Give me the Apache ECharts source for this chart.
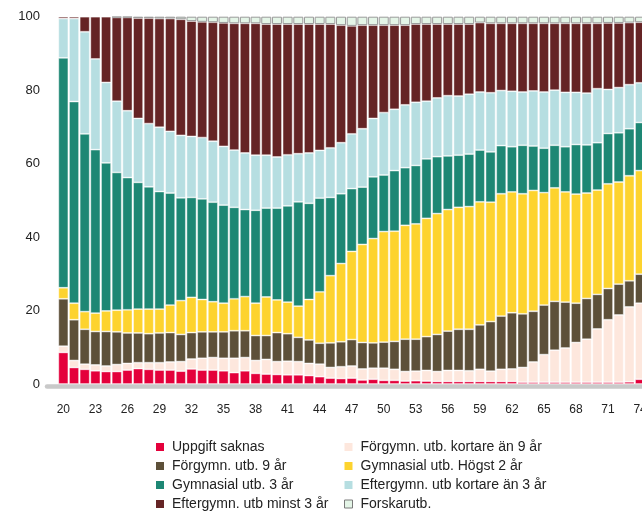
<!DOCTYPE html>
<html>
<head>
<meta charset="utf-8">
<script src="https://cdn.jsdelivr.net/npm/echarts@6/dist/echarts.min.js"></script>
<style>
  html, body { margin: 0; padding: 0; overflow: hidden; background: #fff; }
  #chart { width: 660px; height: 515px; }
</style>
</head>
<body>
<div id="chart"></div>
<script>
// ålder 20..74
const ages = []
for (let a = 20; a <= 74; a++) ages.push(a)
const tickAges = [20, 23, 26, 29, 32, 35, 38, 41, 44, 47, 50, 53, 56, 59, 62, 65, 68, 71, 74]

const names = [
  'Uppgift saknas',
  'Förgymn. utb. kortare än 9 år',
  'Förgymn. utb. 9 år',
  'Gymnasial utb. Högst 2 år',
  'Gymnasial utb. 3 år',
  'Eftergymn. utb kortare än 3 år',
  'Eftergymn. utb minst 3 år',
  'Forskarutb.',
]
const colors = ['#e4003b', '#fde7dd', '#5d5039', '#fdd32e', '#1d8774', '#b6dee1', '#652425', '#e4f5e7']

// andel i procent per ålder
const uppgiftSaknas = [8.6, 4.5, 4.0, 3.6, 3.4, 3.4, 3.8, 4.2, 4.0, 3.8, 3.8, 3.5, 4.1, 3.8, 3.8, 3.6, 3.1, 3.6, 2.9, 2.7,
  2.6, 2.5, 2.5, 2.3, 2.0, 1.6, 1.5, 1.6, 1.1, 1.3, 1.0, 1.0, 0.8, 0.9, 0.8, 0.7, 0.7, 0.7, 0.7, 0.7,
  0.7, 0.7, 0.7, 0.5, 0.5, 0.5, 0.5, 0.5, 0.5, 0.5, 0.5, 0.5, 0.5, 0.6, 1.3]
const forgymnKort = [1.7, 1.9, 1.4, 1.6, 1.5, 1.9, 1.8, 1.6, 1.8, 2.0, 2.2, 2.6, 2.7, 3.2, 3.4, 3.4, 3.9, 3.6, 3.5, 4.0,
  3.5, 3.7, 3.6, 3.3, 3.4, 2.9, 3.2, 3.3, 3.0, 3.0, 3.3, 3.0, 2.6, 2.6, 2.9, 2.7, 3.0, 3.0, 2.9, 3.3,
  2.8, 3.3, 3.4, 4.0, 5.5, 7.5, 8.7, 9.3, 10.8, 11.7, 14.5, 17.0, 18.3, 20.4, 20.7]
const forgymn9 = [12.9, 11.1, 9.5, 9.1, 9.4, 8.9, 8.3, 8.1, 7.9, 8.1, 8.0, 7.4, 7.2, 7.2, 7.0, 7.2, 7.5, 7.3, 6.8, 6.5,
  7.9, 7.5, 6.6, 6.4, 5.7, 6.7, 6.8, 7.2, 7.2, 6.9, 7.1, 7.6, 8.8, 8.7, 9.2, 10.1, 10.7, 11.2, 11.3, 12.1,
  13.5, 14.5, 15.3, 14.6, 13.8, 13.5, 13.3, 12.5, 10.7, 11.1, 9.4, 8.5, 8.4, 7.1, 7.9]
const gymnKort = [3.0, 4.5, 4.8, 5.0, 5.6, 5.9, 6.3, 6.5, 6.7, 6.5, 7.5, 9.2, 9.6, 8.8, 8.2, 7.8, 8.7, 9.3, 8.8, 10.5,
  8.9, 8.6, 8.5, 11.0, 14.0, 18.3, 21.3, 24.0, 26.7, 28.4, 30.1, 30.0, 31.0, 31.4, 32.2, 32.9, 33.1, 33.2, 33.4, 33.5,
  32.5, 33.3, 32.9, 32.7, 32.9, 30.6, 30.9, 30.0, 29.7, 28.7, 28.4, 28.5, 27.8, 28.6, 28.2]
const gymn3 = [62.6, 54.9, 48.4, 44.5, 40.3, 37.5, 36.0, 34.5, 33.3, 32.0, 30.5, 28.0, 27.2, 27.4, 27.1, 26.7, 24.9, 23.7, 25.3, 24.2,
  25.0, 26.2, 28.4, 26.2, 25.5, 21.3, 19.0, 17.1, 15.6, 16.8, 15.4, 16.5, 15.7, 15.9, 16.2, 15.5, 14.6, 14.2, 14.3, 14.1,
  13.7, 13.1, 12.3, 13.2, 12.1, 12.1, 11.6, 12.3, 13.5, 13.1, 12.9, 13.7, 13.4, 12.8, 13.1]
const eftergymnKort = [10.7, 22.6, 27.8, 24.7, 21.9, 19.4, 18.2, 17.4, 17.2, 17.5, 16.8, 17.0, 16.6, 16.7, 16.6, 16.0, 15.6, 15.4, 15.0, 14.4,
  13.9, 13.9, 13.1, 13.7, 13.0, 13.5, 13.9, 14.9, 15.9, 15.9, 17.0, 16.7, 17.1, 17.2, 15.7, 16.0, 16.4, 16.1, 16.3, 15.8,
  16.1, 15.0, 15.1, 14.5, 15.0, 15.3, 15.0, 14.8, 14.2, 14.1, 14.7, 12.0, 12.3, 12.0, 10.8]
const eftergymn3 = [0.5, 0.5, 4.1, 11.5, 17.9, 22.8, 25.4, 27.3, 28.7, 29.6, 30.7, 31.6, 31.4, 31.5, 32.4, 33.6, 34.5, 35.3, 35.9, 35.7,
  36.2, 35.6, 35.3, 35.1, 34.4, 33.7, 32.0, 29.4, 28.2, 25.4, 23.8, 22.9, 21.7, 21.3, 21.0, 20.1, 19.5, 19.6, 19.1, 18.9,
  18.9, 18.3, 18.5, 18.7, 18.4, 18.7, 18.2, 18.8, 18.8, 19.0, 17.8, 18.1, 17.6, 16.9, 16.5]
const forskar = [0.0, 0.0, 0.0, 0.0, 0.0, 0.2, 0.2, 0.4, 0.4, 0.5, 0.5, 0.7, 1.2, 1.4, 1.5, 1.7, 1.8, 1.8, 1.8, 2.0,
  2.0, 2.0, 2.0, 2.0, 2.0, 2.0, 2.3, 2.5, 2.3, 2.3, 2.3, 2.3, 2.3, 2.0, 2.0, 2.0, 2.0, 2.0, 2.0, 1.6,
  1.8, 1.8, 1.8, 1.8, 1.8, 1.8, 1.8, 1.8, 1.8, 1.8, 1.8, 1.7, 1.7, 1.6, 1.5]

const seriesValues = [uppgiftSaknas, forgymnKort, forgymn9, gymnKort, gymn3, eftergymnKort, eftergymn3, forskar]

const font = "'Liberation Sans', Arial, sans-serif"

// value first so the stack is done on the y dimension
const series = seriesValues.map((vals, i) => ({
  name: names[i],
  type: 'bar',
  stack: 'total',
  barWidth: 10,
  encode: { x: 1, y: 0 },
  data: vals.map((v, k) => [v, ages[k]]),
  itemStyle: {
    color: colors[i],
    borderColor: i === 7 ? '#9a9a9a' : 'rgba(255,255,255,0.55)',
    borderWidth: i === 7 ? 1 : 0.8,
  },
}))

function legendItems(idx) {
  return idx.map((i) => ({
    name: names[i],
    itemStyle: i === 7 ? { borderColor: '#7a7a7a', borderWidth: 1 } : { borderWidth: 0 },
  }))
}

const legendBase = {
  orient: 'vertical',
  top: 440,
  padding: 0,
  itemWidth: 8,
  itemHeight: 8,
  itemGap: 5,
  icon: 'rect',
  selectedMode: false,
  textStyle: { fontFamily: font, fontSize: 14, color: '#222', padding: [0, 0, 0, 3] },
}

const chart = echarts.init(document.getElementById('chart'))
chart.setOption({
  animation: false,
  backgroundColor: '#fff',
  color: colors,
  grid: { left: 47, right: 10, top: 16.7, bottom: 131 },
  legend: [
    Object.assign({}, legendBase, { left: 156, data: legendItems([0, 2, 4, 6]) }),
    Object.assign({}, legendBase, { left: 344, data: legendItems([1, 3, 5, 7]) }),
  ],
  xAxis: {
    type: 'value',
    min: 18.47,
    max: 74.93,
    offset: 2.5,
    splitLine: { show: false },
    axisTick: { show: false },
    axisLine: { show: true, onZero: false, lineStyle: { color: '#c9c9c9', width: 4.5 } },
    axisLabel: {
      customValues: tickAges,
      fontFamily: font,
      fontSize: 12,
      color: '#222',
      margin: 17,
    },
  },
  yAxis: {
    type: 'value',
    min: 0,
    max: 100,
    interval: 20,
    splitLine: { show: false },
    axisTick: { show: false },
    axisLine: { show: false },
    axisLabel: { fontFamily: font, fontSize: 13, color: '#222', margin: 7 },
  },
  series: series,
})
</script>
</body>
</html>
